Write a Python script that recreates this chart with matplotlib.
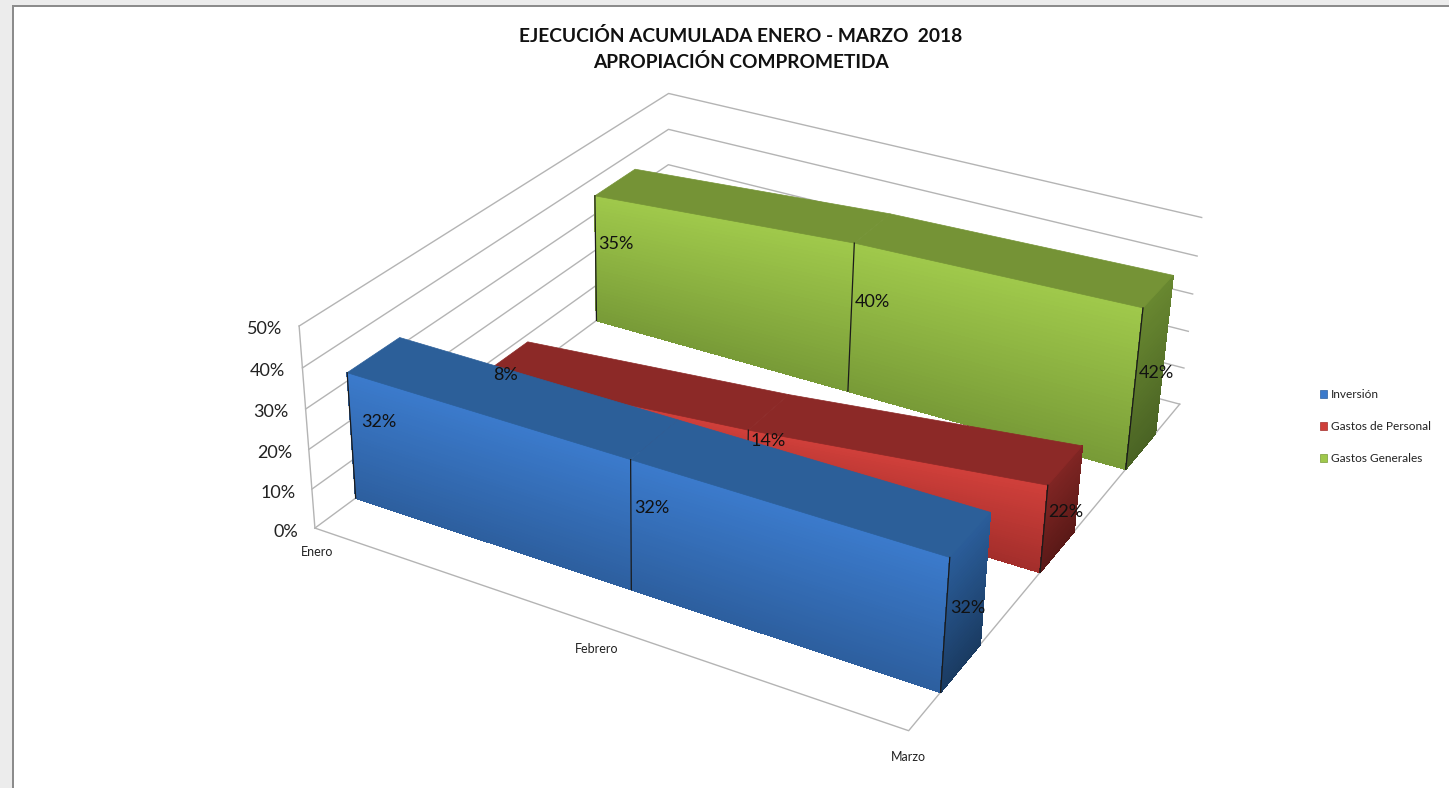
import numpy as np
import matplotlib
matplotlib.use("Agg")
import matplotlib.pyplot as plt
from matplotlib.patches import Rectangle, Patch
from matplotlib.colors import to_rgb
from mpl_toolkits.mplot3d.art3d import Poly3DCollection

plt.rcParams['font.family'] = ['Lato', 'DejaVu Sans']

# data
meses = ["Enero", "Febrero", "Marzo"]
series = ["Inversión", "Gastos de Personal", "Gastos Generales"]
inversion = [32, 32, 32]
personal = [8, 14, 22]
generales = [35, 40, 42]
z_ticks = [0, 10, 20, 30, 40, 50]

# colours: front top, front bottom, top face, side top, side bottom
estilos = [
    ("#3b7acb", "#2d5f9f", "#2c5f99", "#2a5c98", "#1a3b62"),
    ("#cf3f3a", "#a32e2b", "#8c2927", "#7f2523", "#5a1917"),
    ("#9fc84b", "#789b37", "#759336", "#688730", "#4a6324"),
]
GRID = "#b4b4b4"
W, H = 1449, 788


def strips(col_a, col_b, n):
    a, b = np.array(to_rgb(col_a)), np.array(to_rgb(col_b))
    return [tuple(a + (b - a) * i / (n - 1)) for i in range(n)]


def draw_slab(ax, vals, y0, y1, est, z):
    xs = range(len(vals))
    last = len(vals) - 1
    n = 40
    polys, cols = [], []
    # front face, shaded bottom to top
    fr = strips(est[1], est[0], n)
    for i in range(last):
        for k in range(n):
            t0, t1 = k / n, (k + 1) / n
            polys.append([(i, y0, vals[i] * t0), (i + 1, y0, vals[i + 1] * t0),
                          (i + 1, y0, vals[i + 1] * t1), (i, y0, vals[i] * t1)])
            cols.append(fr[k])
    # end face
    sd = strips(est[4], est[3], n)
    for k in range(n):
        t0, t1 = k / n, (k + 1) / n
        polys.append([(last, y0, vals[last] * t0), (last, y1, vals[last] * t0),
                      (last, y1, vals[last] * t1), (last, y0, vals[last] * t1)])
        cols.append(sd[k])
    pc = Poly3DCollection(polys, facecolors=cols, edgecolors=cols, linewidths=0.5,
                          antialiased=False, zorder=z)
    ax.add_collection3d(pc)
    # top face
    tops = [[(i, y0, vals[i]), (i + 1, y0, vals[i + 1]), (i + 1, y1, vals[i + 1]), (i, y1, vals[i])]
            for i in range(last)]
    ax.add_collection3d(Poly3DCollection(tops, facecolors=est[2], edgecolors=est[2], linewidths=0.5, zorder=z + 0.2))
    # dark lines on the category positions
    for i in xs:
        ax.plot([i, i], [y0, y0], [0, vals[i]], color="#1a1a1a", lw=0.9, zorder=z + 0.5)


fig = plt.figure(figsize=(W / 100, H / 100), dpi=100, facecolor="white")

# window frame around the chart
fig.add_artist(Rectangle((0, 0), 12 / W, 1, transform=fig.transFigure, color="#ececec", lw=0))
fig.add_artist(Rectangle((0, 1 - 5 / H), 1, 5 / H, transform=fig.transFigure, color="#ececec", lw=0))
fig.add_artist(Rectangle((12 / W, 0), 2 / W, 1 - 5 / H, transform=fig.transFigure, color="#8c8c8c", lw=0))
fig.add_artist(Rectangle((12 / W, 1 - 7 / H), 1, 2 / H, transform=fig.transFigure, color="#8c8c8c", lw=0))

S = 1100
cx, cy = 772, 368
ax = fig.add_axes([(cx - 0.5135 * S) / W, (H - cy - 0.5135 * S) / H, S / W, S / H],
                  projection="3d", computed_zorder=False)
ax.set_axis_off()
ax.patch.set_alpha(0)
ax.set_xlim(0, 2, view_margin=0)
ax.set_ylim(0, 3, view_margin=0)
ax.set_zlim(0, 50, view_margin=0)
ax.set_box_aspect((0.515, 0.539, 0.178), zoom=923 / S)
ax.set_proj_type("persp", focal_length=0.49 * 923 / S)
ax.view_init(elev=28.5, azim=-62.1, roll=-1.5)

# walls and floor
for t in z_ticks:
    ax.plot([0, 0, 2], [0, 3, 3], [t, t, t], color=GRID, lw=1, zorder=1)
ax.plot([0, 2, 2], [0, 0, 3], [0, 0, 0], color=GRID, lw=1, zorder=1)
ax.plot([0, 0], [0, 0], [0, 50], color=GRID, lw=1, zorder=1)

valores = [inversion, personal, generales]
for idx in [2, 1, 0]:
    y0, y1 = idx + 0.29, idx + 0.67
    draw_slab(ax, valores[idx], y0, y1, estilos[idx], 10 + (2 - idx) * 5)
    for i, v in enumerate(valores[idx]):
        # the two front series sit a bit further in at Enero
        nudge = 0.04 if i == 0 and idx < 2 else 0.01
        ax.text(i + nudge, y0, 0.5 * v + 4.5, "%d%%" % v, fontsize=13, color="#111111",
                ha="left", va="center", zorder=40)

for t in z_ticks:
    ax.text(-0.03, -0.06, t, "%d%%" % t, fontsize=13, color="#222222", ha="right", va="center", zorder=40)
mes_dx = [0.09, 0.072, 0.05]
for i, m in enumerate(meses):
    ax.text(i + mes_dx[i], -0.15, 0, m, fontsize=9, color="#222222", ha="center", va="center", zorder=40)

fig.text(741 / W, 1 - 36 / H, "EJECUCIÓN ACUMULADA ENERO - MARZO  2018", fontsize=13.8,
         fontweight="bold", color="#111111", ha="center", va="center")
fig.text(741 / W, 1 - 62 / H, "APROPIACIÓN COMPROMETIDA", fontsize=13.8,
         fontweight="bold", color="#111111", ha="center", va="center")

handles = [Patch(facecolor=estilos[i][0], edgecolor=estilos[i][1], lw=0.5, label=series[i]) for i in range(3)]
fig.legend(handles=handles, loc="center left", bbox_to_anchor=(1309 / W, 1 - 426.5 / H), frameon=False,
           fontsize=8.6, handlelength=0.6, handleheight=0.65, handletextpad=0.35, labelspacing=1.78,
           labelcolor="#222222")

fig.savefig("out.png", dpi=100)
